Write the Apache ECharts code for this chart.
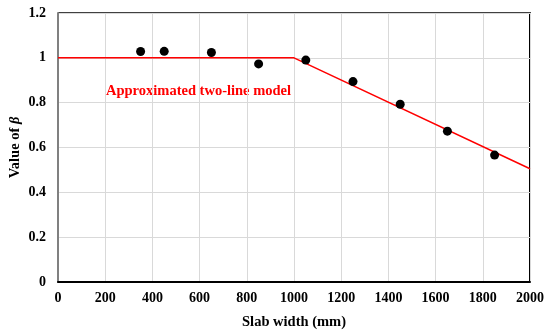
<!DOCTYPE html>
<html><head><meta charset="utf-8">
<script src="https://cdn.jsdelivr.net/npm/echarts@6/dist/echarts.min.js"></script>
<style>html,body{margin:0;padding:0;background:#fff}#c{width:550px;height:335px}</style>
</head><body><div id="c"></div>
<script>
var slabWidth = [350, 450, 650, 850, 1050, 1250, 1450, 1650, 1850];
var betaValues = [1.028, 1.029, 1.024, 0.973, 0.990, 0.894, 0.793, 0.673, 0.566];
var modelX = [0, 1000, 2000];
var modelY = [1, 1, 0.505];
var xTicks = [0, 200, 400, 600, 800, 1000, 1200, 1400, 1600, 1800, 2000];
var yTicks = [0, 0.2, 0.4, 0.6, 0.8, 1, 1.2];
var modelLabel = 'Approximated two-line model';

var font = '"Liberation Serif","Times New Roman",serif';
var chart = echarts.init(document.getElementById('c'));
chart.setOption({
  animation: false,
  grid: {left: 58, right: 20, top: 13, bottom: 53, show: true, borderColor: '#000', borderWidth: 0,
         containLabel: false, outerBoundsMode: 'none'},
  xAxis: {
    type: 'value', min: 0, max: 2000, interval: 200,
    name: 'Slab width (mm)', nameLocation: 'middle', nameGap: 33, nameMoveOverlap: false,
    nameTextStyle: {fontFamily: font, fontWeight: 'bold', fontSize: 14.5, color: '#000'},
    axisLine: {show: true, onZero: false, lineStyle: {color: '#000', width: 2}},
    axisTick: {show: false},
    axisLabel: {fontFamily: font, fontWeight: 'bold', fontSize: 14, color: '#000', margin: 9,
      formatter: function(v){ return xTicks.indexOf(v) >= 0 ? String(v) : ''; }},
    splitLine: {show: true, lineStyle: {color: '#d9d9d9', width: 1}}
  },
  yAxis: {
    type: 'value', min: 0, max: 1.2, interval: 0.2,
    name: '{n|Value of }{b|β}', nameLocation: 'middle', nameGap: 35, nameMoveOverlap: false,
    nameTextStyle: {rich: {
      n: {fontFamily: font, fontWeight: 'bold', fontSize: 14.5, color: '#000'},
      b: {fontFamily: font, fontWeight: 'bold', fontStyle: 'italic', fontSize: 14.5, color: '#000'}
    }},
    axisLine: {show: true, onZero: false, lineStyle: {color: '#808080', width: 2}},
    axisTick: {show: false},
    axisLabel: {fontFamily: font, fontWeight: 'bold', fontSize: 14, color: '#000', margin: 12,
      formatter: function(v){ var r = Math.round(v*10)/10; return yTicks.indexOf(r) >= 0 ? String(r) : ''; }},
    splitLine: {show: true, lineStyle: {color: '#d9d9d9', width: 1}}
  },
  series: [
    {type: 'line', data: modelX.map(function(x,i){return [x, modelY[i]];}), symbol: 'none',
     lineStyle: {color: '#ff0000', width: 1.5}, z: 3},
    {type: 'scatter', data: slabWidth.map(function(x,i){return [x, betaValues[i]];}),
     symbol: 'circle', symbolSize: 9, itemStyle: {color: '#000', opacity: 1}, z: 4}
  ],
  graphic: [
    {type: 'line', shape: {x1: 530, y1: 13, x2: 530, y2: 282}, style: {stroke: '#000', lineWidth: 2}, silent: true},
    {type: 'line', shape: {x1: 58, y1: 13, x2: 531, y2: 13}, style: {stroke: '#404040', lineWidth: 2}, silent: true},
    {type: 'text', left: 106, top: 84, style: {text: modelLabel, fill: '#ff0000', font: 'bold 14.5px ' + font}}
  ]
});
</script></body></html>
